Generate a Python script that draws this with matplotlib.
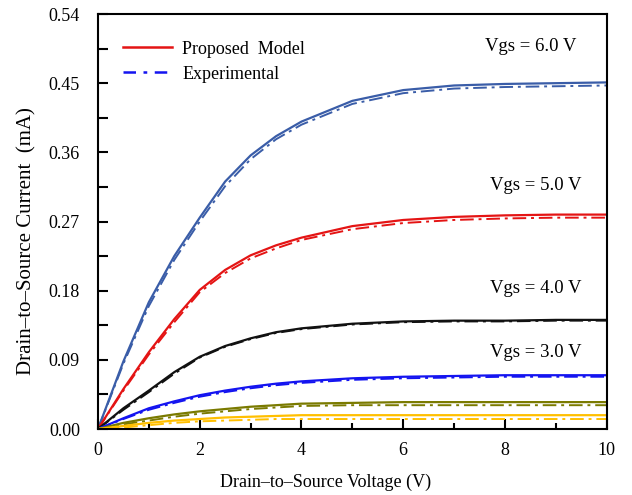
import matplotlib.pyplot as plt
from matplotlib.lines import Line2D
from matplotlib.ticker import MultipleLocator

plt.rcParams['font.family'] = ['Liberation Serif', 'DejaVu Serif']

# drain-source voltage (V)
vds = [0, 0.5, 1, 1.5, 2, 2.5, 3, 3.5, 4, 5, 6, 7, 8, 9, 10]

# drain current (mA), model / experimental for each gate voltage
model_6 = [0, 0.088, 0.165, 0.225, 0.275, 0.322, 0.356, 0.381, 0.400, 0.427, 0.441, 0.447, 0.449, 0.450, 0.451]
exp_6 = [0, 0.085, 0.160, 0.220, 0.270, 0.316, 0.351, 0.377, 0.396, 0.423, 0.437, 0.443, 0.445, 0.446, 0.447]
model_5 = [0, 0.052, 0.100, 0.143, 0.181, 0.207, 0.226, 0.239, 0.249, 0.264, 0.272, 0.276, 0.278, 0.279, 0.279]
exp_5 = [0, 0.050, 0.097, 0.139, 0.178, 0.203, 0.222, 0.235, 0.246, 0.260, 0.268, 0.272, 0.274, 0.275, 0.275]
model_4 = [0, 0.027, 0.050, 0.074, 0.094, 0.108, 0.118, 0.126, 0.131, 0.137, 0.140, 0.141, 0.141, 0.142, 0.142]
exp_4 = [0, 0.025, 0.048, 0.072, 0.093, 0.107, 0.117, 0.125, 0.130, 0.136, 0.139, 0.140, 0.140, 0.141, 0.141]
model_3 = [0, 0.014, 0.027, 0.036, 0.044, 0.050, 0.055, 0.059, 0.062, 0.066, 0.068, 0.069, 0.070, 0.070, 0.070]
exp_3 = [0, 0.013, 0.025, 0.034, 0.042, 0.048, 0.053, 0.057, 0.060, 0.064, 0.066, 0.067, 0.068, 0.068, 0.068]
model_2 = [0, 0.008, 0.014, 0.019, 0.023, 0.026, 0.029, 0.031, 0.033, 0.034, 0.035, 0.035, 0.035, 0.035, 0.035]
exp_2 = [0, 0.006, 0.011, 0.016, 0.020, 0.023, 0.026, 0.028, 0.030, 0.031, 0.031, 0.031, 0.031, 0.031, 0.031]
model_1 = [0, 0.004, 0.008, 0.011, 0.013, 0.015, 0.016, 0.017, 0.018, 0.018, 0.018, 0.018, 0.018, 0.018, 0.018]
exp_1 = [0, 0.002, 0.005, 0.008, 0.010, 0.011, 0.012, 0.013, 0.013, 0.013, 0.013, 0.013, 0.013, 0.013, 0.013]

curve_colors = ['#3a5da8', '#e41414', '#111111', '#1414f0', '#7a7a00', '#ffbf00']
models = [model_6, model_5, model_4, model_3, model_2, model_1]
exps = [exp_6, exp_5, exp_4, exp_3, exp_2, exp_1]

vgs_labels = ['Vgs = 6.0 V', 'Vgs = 5.0 V', 'Vgs = 4.0 V', 'Vgs = 3.0 V']
label_pos = [(8.5, 0.498), (8.6, 0.3175), (8.6, 0.183), (8.6, 0.100)]

fig = plt.figure(figsize=(6.32, 4.95), dpi=100)
ax = fig.add_axes([0.155, 0.1333, 0.805, 0.8384])

dash = (0, (7, 2.5, 1.5, 2.5))
for m, e, c in zip(models, exps, curve_colors):
    ax.plot(vds, e, color=c, lw=1.4, linestyle=dash)
    ax.plot(vds, m, color=c, lw=1.6)

for txt, (x, y) in zip(vgs_labels, label_pos):
    ax.text(x, y, txt, ha='center', va='center', fontsize=13.5)

ax.set_xlim(0, 10)
ax.set_ylim(0, 0.54)
ax.xaxis.set_major_locator(MultipleLocator(2))
ax.xaxis.set_minor_locator(MultipleLocator(1))
ax.yaxis.set_major_locator(MultipleLocator(0.09))
ax.yaxis.set_minor_locator(MultipleLocator(0.045))
ax.yaxis.set_major_formatter(plt.FuncFormatter(lambda v, p: f'{v:.2f}'))
ax.tick_params(which='major', direction='in', length=7, width=1.5, labelsize=13)
ax.tick_params(axis='x', which='major', pad=9)
ax.tick_params(axis='y', which='major', pad=13)
ax.tick_params(axis='y', which='minor', direction='in', length=7, width=1.5)
ax.tick_params(axis='x', which='minor', direction='in', length=4, width=1.5)
for s in ax.spines.values():
    s.set_linewidth(1.5)

ax.set_xlabel('Drain\u2013to\u2013Source Voltage (V)', fontsize=13)
ax.xaxis.set_label_coords(0.448, -0.108)
ax.set_ylabel('Drain\u2013to\u2013Source Current  (mA)', fontsize=15)
ax.yaxis.set_label_coords(-0.12, 0.453)

handles = [Line2D([], [], color='#e41414', lw=1.8),
           Line2D([], [], color='#1414f0', lw=1.8, linestyle=(0, (5, 3, 1.5, 3)))]
ax.legend(handles, ['Proposed  Model', 'Experimental'], loc='upper left',
          bbox_to_anchor=(0.017, 0.975), frameon=False, fontsize=13,
          handlelength=2.7, handletextpad=0.6, labelspacing=0.45)

fig.savefig('out.png', dpi=100)
